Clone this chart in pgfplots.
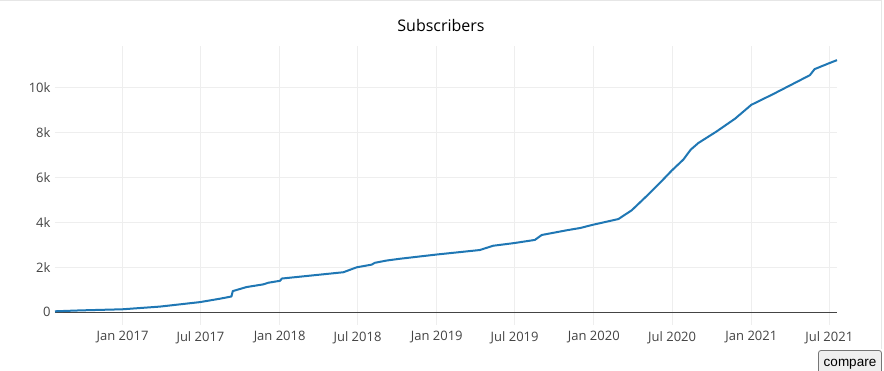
\documentclass[border=0pt]{standalone}
\usepackage{pgfplots}
\pgfplotsset{compat=1.18}
\usepackage{fontspec}
\setmainfont{Open Sans}
\newfontfamily\btnfont{Liberation Sans}
\definecolor{plotblue}{HTML}{1F77B4}
\definecolor{tickgray}{HTML}{444444}
\definecolor{gridgray}{HTML}{EEEEEE}
\definecolor{framegray}{HTML}{E6E6E6}
\definecolor{btnbg}{HTML}{EFEFEF}
\definecolor{btnborder}{HTML}{767676}
\pgfplotstableread{
day subs
209 40
267 80
366 130
453 250
546 450
592 600
619 700
622 940
654 1120
693 1240
704 1310
732 1400
736 1500
879 1780
910 2000
945 2120
952 2200
979 2300
1010 2380
1096 2570
1196 2770
1227 2960
1276 3080
1324 3220
1340 3440
1398 3650
1429 3750
1460 3900
1518 4150
1549 4540
1584 5180
1615 5770
1642 6310
1669 6800
1686 7240
1704 7540
1746 8050
1789 8620
1827 9240
1878 9720
1963 10560
1974 10830
2006 11080
2026 11230
}\subsdata
\begin{document}
\begin{tikzpicture}[x=1pt,y=1pt]
\useasboundingbox (0,0) rectangle (884,371);
\path[fill=white] (0,0) rectangle (884,371);
\draw[framegray, line width=0.8pt] (0,370.6) -- (881.5,370.6) -- (881.5,22);
\begin{axis}[
  at={(55pt,46pt)}, anchor=south west,
  scale only axis, width=782pt, height=279pt,
  xmin=209, xmax=2026, ymin=-570, ymax=11860,
  axis line style={draw=none},
  major tick length=0pt,
  scaled y ticks=false, scaled x ticks=false,
  xtick={366,547,731,912,1096,1277,1461,1643,1827,2008},
  xticklabels={Jan 2017,Jul 2017,Jan 2018,Jul 2018,Jan 2019,Jul 2019,Jan 2020,Jul 2020,Jan 2021,Jul 2021},
  ytick={2000,4000,6000,8000,10000},
  yticklabels={2k,4k,6k,8k,10k},
  extra y ticks={0}, extra y tick labels={0},
  extra y tick style={grid style={color=tickgray, line width=1pt}},
  grid=major,
  grid style={color=gridgray, line width=0.8pt},
  tick label style={font=\fontsize{13}{15}\selectfont, text=tickgray},
  xticklabel style={yshift=-3pt},
  yticklabel style={xshift=-1pt},
  /pgf/number format/assume math mode=true,
  clip=false,
]
\addplot[plotblue, line width=2pt, line join=round] table[x=day,y=subs] {\subsdata};
\end{axis}
\node[font=\fontsize{16}{19}\selectfont] at (441,345) {Subscribers};
\begin{scope}
\clip (0,0) rectangle (884,371);
\draw[btnborder, fill=btnbg, rounded corners=2.5pt, line width=0.8pt] (818.5,-4) rectangle (881.5,20.5);
\end{scope}
\node[font=\btnfont\fontsize{13.5}{15}\selectfont, anchor=base] at (850,4) {compare};
\end{tikzpicture}
\end{document}
